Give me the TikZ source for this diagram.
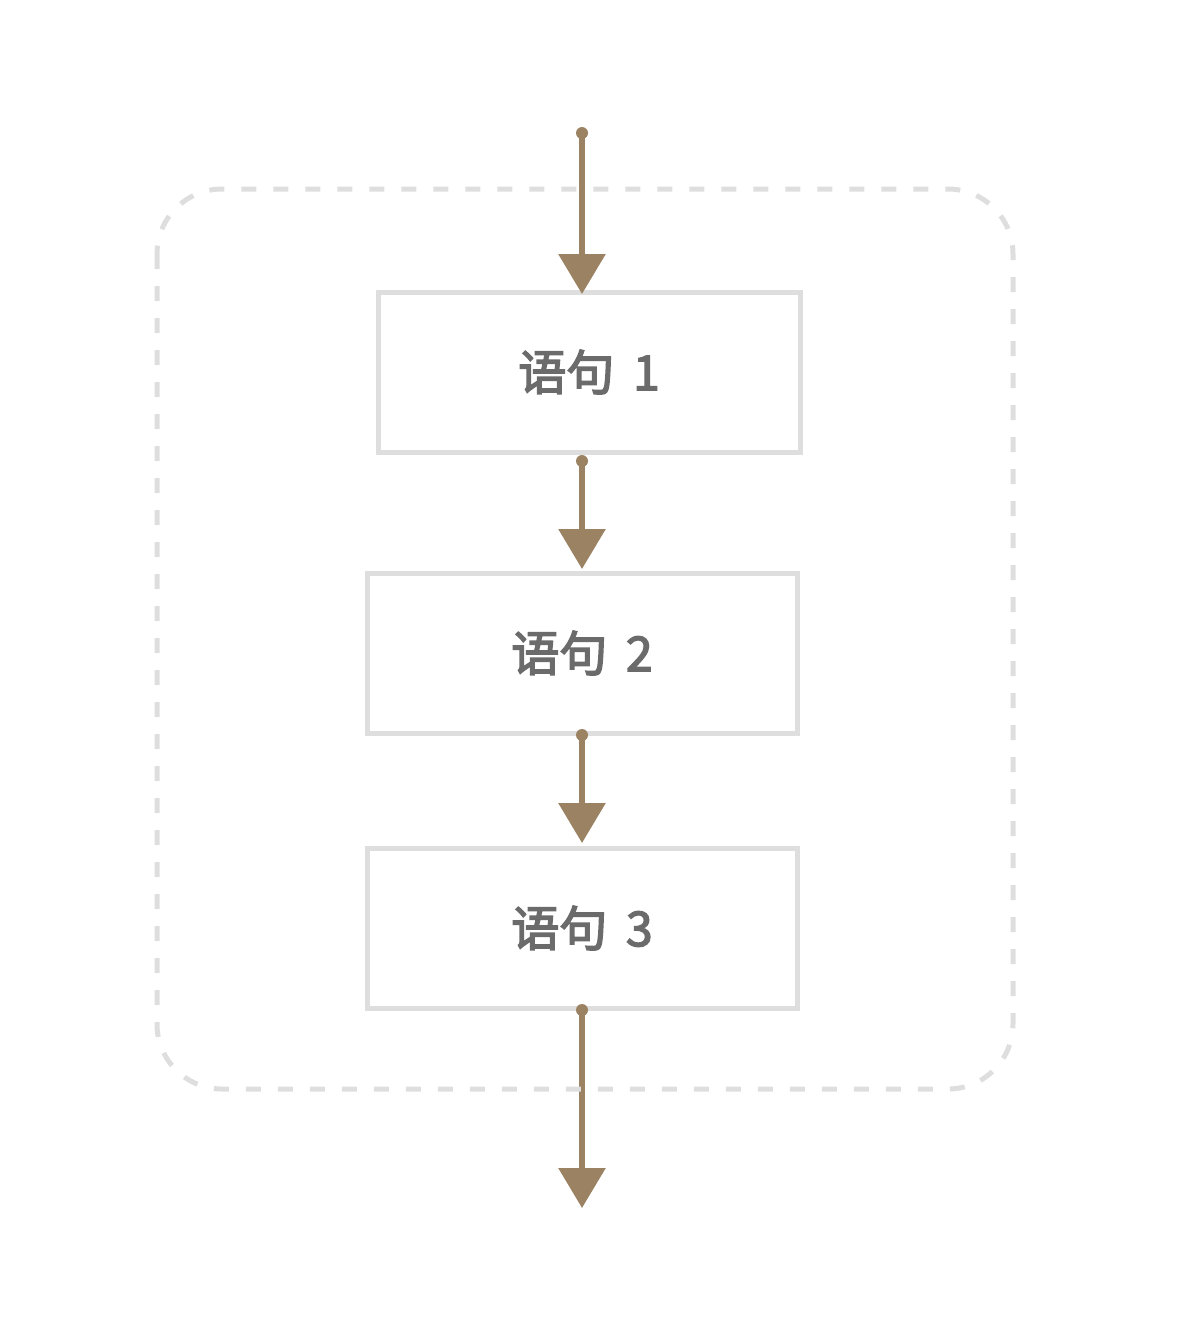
\documentclass[tikz,border=0pt]{standalone}
\usepackage{fontspec}
\newfontfamily\cjk{Noto Sans CJK SC}[FakeBold=3]
\usetikzlibrary{arrows.meta}
\definecolor{arrowc}{RGB}{154,130,98}
\definecolor{boxc}{RGB}{222,222,222}
\definecolor{textc}{RGB}{107,107,107}
\tikzset{
  stmt/.style={draw=boxc, line width=5pt, fill=white, minimum height=160pt, inner sep=0pt, font=\cjk\fontsize{48}{56}\selectfont, text=textc},
  flow/.style={draw=arrowc, line width=6pt, -{Triangle[width=46pt,length=40pt]}, shorten >=0pt},
  startdot/.style={circle, fill=arrowc, inner sep=0pt, minimum size=12pt},
}
\begin{document}
\begin{tikzpicture}[x=1pt,y=-1pt]
\useasboundingbox (0,0) rectangle (1200,1342);
\node[stmt, minimum width=422pt] (s1) at (589,372) {语句\ \,1};
\node[stmt, minimum width=430pt] (s2) at (582,653) {语句\ \,2};
\node[stmt, minimum width=430pt] (s3) at (582,928) {语句\ \,3};
\node[startdot] (d0) at (582,133) {};
\node[startdot] (d1) at (582,461) {};
\node[startdot] (d2) at (582,735) {};
\node[startdot] (d3) at (582,1010) {};
\coordinate (t1) at (582,294);
\coordinate (t2) at (582,569);
\coordinate (t3) at (582,843);
\coordinate (t4) at (582,1208);
\draw[flow] (d0.center) -- (t1);
\draw[flow] (d1.center) -- (t2);
\draw[flow] (d2.center) -- (t3);
\draw[flow] (d3.center) -- (t4);
\draw[boxc, line width=5pt, dash pattern=on 15pt off 17pt, rounded corners=65pt] (157,189) rectangle (1013,1089);
\end{tikzpicture}
\end{document}
